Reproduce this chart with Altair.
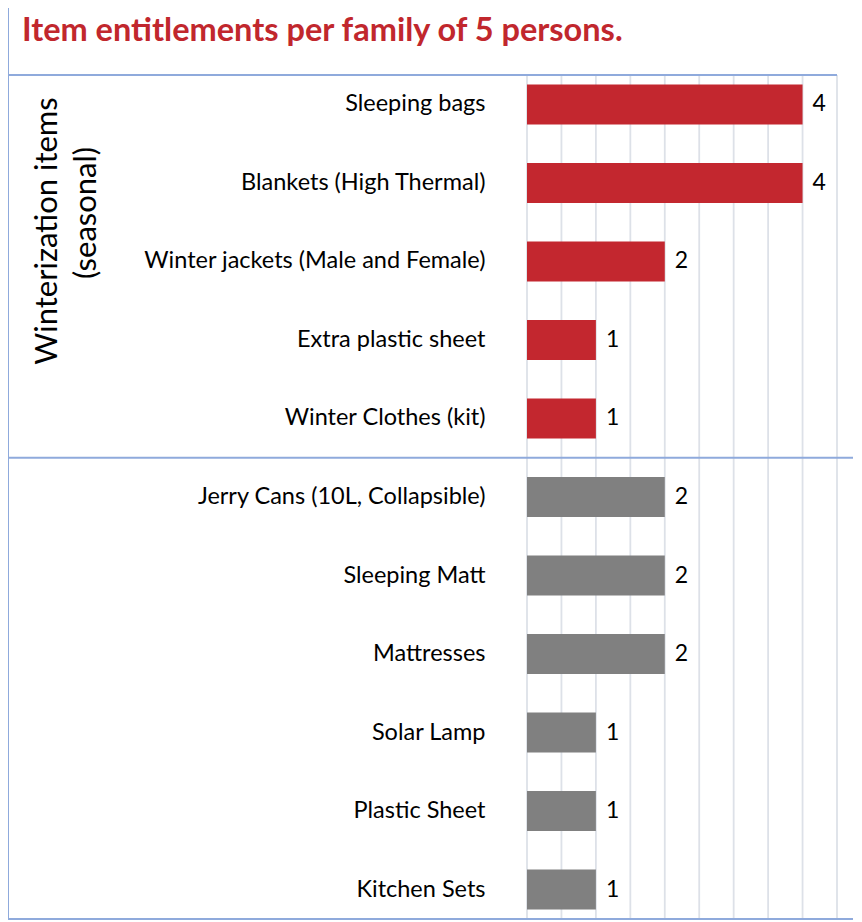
import altair as alt
import pandas as pd

# ---- data ----
items = [
    "Sleeping bags",
    "Blankets (High Thermal) ",
    "Winter jackets (Male and Female)",
    "Extra plastic sheet",
    "Winter Clothes (kit) ",
    "Jerry Cans (10L, Collapsible)",
    "Sleeping Matt ",
    "Mattresses",
    "Solar Lamp",
    "Plastic Sheet",
    "Kitchen Sets",
]
values = [4, 4, 2, 1, 1, 2, 2, 2, 1, 1, 1]
groups = ["Winterization"] * 5 + ["Core"] * 6
group_names = ["Winterization", "Core"]
group_colors = ["#C3272F", "#808080"]
grid_values = [0, 0.5, 1, 1.5, 2, 2.5, 3, 3.5, 4, 4.5]
title_text = "Item entitlements per family of 5 persons."
side_title = ["Winterization items", "(seasonal)"]

df = pd.DataFrame({"item": items, "value": values, "group": groups})
grid_df = pd.DataFrame({"g": grid_values})
one = pd.DataFrame({"k": [0]})

# ---- layout ----
W, H = 310, 844
PI, PO = 0.49, 0.12
step = H / (len(items) - PI + 2 * PO)
sep_y = step * PO + 5 * step - step * PI / 2
border = "#8FAADC"
LEFT = -519
RIGHT = 326
FONT = "Lato"

x_scale = alt.Scale(domain=[0, 4.5], nice=False)

y_enc = alt.Y(
    "item:N",
    sort=items,
    scale=alt.Scale(paddingInner=PI, paddingOuter=PO),
    axis=alt.Axis(
        title=None, ticks=False, domain=False, labelFont=FONT,
        labelFontSize=23.5, labelColor="black", labelPadding=42,
        labelLimit=600, grid=False,
    ),
)
x_enc = alt.X("value:Q", scale=x_scale, axis=None)

grid = alt.Chart(grid_df).mark_rule(color="#DDE1E8", strokeWidth=1.8).encode(
    x=alt.X("g:Q", scale=x_scale, axis=None),
    y=alt.value(0),
    y2=alt.value(H),
)

bars = alt.Chart(df).mark_bar().encode(
    y=y_enc,
    x=x_enc,
    color=alt.Color("group:N", scale=alt.Scale(domain=group_names, range=group_colors), legend=None),
)

labels = alt.Chart(df).mark_text(
    align="left", baseline="middle", dx=10, fontSize=23, font=FONT, color="black"
).encode(y=alt.Y("item:N", sort=items), x="value:Q", text="value:Q")

def rule(x, x2, y, y2):
    return alt.Chart(one).mark_rule(color=border, strokeWidth=2).encode(
        x=alt.value(x), x2=alt.value(x2), y=alt.value(y), y2=alt.value(y2)
    )

left_line = rule(LEFT, LEFT, -67, H)
top_line = rule(LEFT, W, 0, 0)
sep_line = rule(LEFT, RIGHT, sep_y, sep_y)
bottom_line = rule(LEFT, RIGHT, H, H)

title = alt.Chart(one).mark_text(
    text=title_text, align="left", baseline="alphabetic", font=FONT,
    fontSize=32.5, fontWeight="bold", color="#C1272D",
).encode(x=alt.value(-505), y=alt.value(-34))

side1 = alt.Chart(one).mark_text(
    text=side_title[0], angle=270, align="center", baseline="alphabetic",
    font=FONT, fontSize=31, color="black",
).encode(x=alt.value(-470), y=alt.value(156))
side2 = alt.Chart(one).mark_text(
    text=side_title[1], angle=270, align="center", baseline="alphabetic",
    font=FONT, fontSize=31, color="black",
).encode(x=alt.value(-431), y=alt.value(138))

chart = alt.layer(
    grid, bars, labels, left_line, top_line, sep_line, bottom_line, title, side1, side2
).properties(
    width=W, height=H,
    autosize=alt.AutoSizeParams(type="none"),
    padding={"left": 519, "top": 67, "right": 17, "bottom": 1},
).configure_view(stroke=None)

chart.save("out.html", embed_options={"renderer": "svg", "actions": False})
